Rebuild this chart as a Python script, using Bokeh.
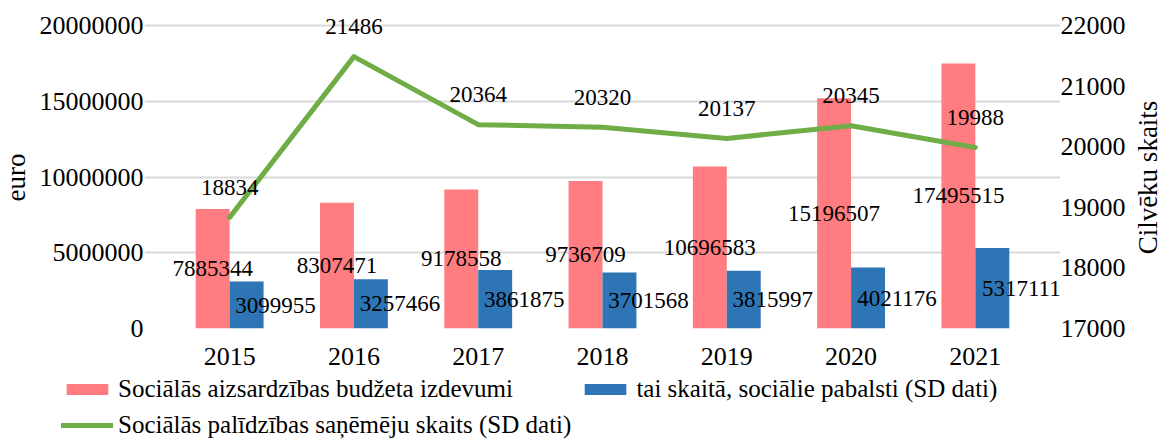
import math
from bokeh.plotting import figure
from bokeh.layouts import column, row
from bokeh.models import (Range1d, LinearAxis, FactorRange, ColumnDataSource, Legend,
                          LegendItem, FixedTicker, BasicTickFormatter, Label)
from bokeh.transform import dodge
from bokeh.core.properties import value
from bokeh.embed import file_html
from bokeh.resources import INLINE

years = ["2015", "2016", "2017", "2018", "2019", "2020", "2021"]
budget = [7885344, 8307471, 9178558, 9736709, 10696583, 15196507, 17495515]
benefits = [3099955, 3257466, 3861875, 3701568, 3815997, 4021176, 5317111]
recipients = [18834, 21486, 20364, 20320, 20137, 20345, 19988]
left_ticks = [0, 5000000, 10000000, 15000000, 20000000]
right_ticks = [17000, 18000, 19000, 20000, 21000, 22000]

name_budget = "Sociālās aizsardzības budžeta izdevumi"
name_benefits = "tai skaitā, sociālie pabalsti (SD dati)"
name_recipients = "Sociālās palīdzības saņēmēju skaits (SD dati)"
left_title = "euro"
right_title = "Cilvēku skaits"

FONT = "Liberation Serif"
PINK = "#FF7C80"
BLUE = "#2E75B6"
GREEN = "#70AD47"

# layout geometry (pixels)
W = 1162
LW = 35           # strip holding the left axis title
RW = 31           # strip holding the right axis title
PH = 375          # chart height
LH = 64           # legend strip height
F_LEFT, F_RIGHT = 144, 1060       # plot frame (room for labels that overhang)
G_TOP, G_BOTTOM = 25, 328         # where the top/bottom gridlines sit
F_TOP = 5
CAT_W = (1037 - 167) / len(years)  # width of one category slot
pad = (167 - F_LEFT) / CAT_W

src = ColumnDataSource(dict(
    year=years,
    budget=budget,
    benefits=benefits,
    recipients=recipients,
    budget_mid=[v / 2 for v in budget],
    benefits_mid=[v / 2 for v in benefits],
    budget_txt=[str(v) for v in budget],
    benefits_txt=[str(v) for v in benefits],
    recipients_txt=[str(v) for v in recipients],
))

def no_align(fig):
    if hasattr(fig, "frame_align"):
        fig.frame_align = False

stretch = (G_BOTTOM - F_TOP) / (G_BOTTOM - G_TOP)
p = figure(x_range=FactorRange(factors=years, range_padding=pad,
                               range_padding_units="absolute"),
           y_range=Range1d(0, left_ticks[-1] * stretch),
           width=W - LW - RW, height=PH, output_backend="svg", toolbar_location=None,
           min_border_left=F_LEFT - LW, min_border_right=W - RW - F_RIGHT,
           min_border_top=F_TOP, min_border_bottom=PH - G_BOTTOM)
no_align(p)
p.extra_y_ranges = {"right": Range1d(right_ticks[0], right_ticks[0] +
                                     (right_ticks[-1] - right_ticks[0]) * stretch)}
p.outline_line_color = None
p.xgrid.grid_line_color = None
p.ygrid.grid_line_color = "#D9D9D9"
p.ygrid.grid_line_width = 2

bw = 0.273
r_budget = p.vbar(x=dodge("year", -bw / 2, range=p.x_range), top="budget", width=bw,
                  source=src, color=PINK, line_color=None)
r_benefits = p.vbar(x=dodge("year", bw / 2, range=p.x_range), top="benefits", width=bw,
                    source=src, color=BLUE, line_color=None)
r_line = p.line(x="year", y="recipients", source=src, y_range_name="right",
                line_color=GREEN, line_width=5, line_cap="round", line_join="round")

lbl_size = "23px"
p.text(x=dodge("year", -bw / 2, range=p.x_range), y="budget_mid", text="budget_txt",
       source=src, text_align="center", text_baseline="middle",
       text_font=value(FONT), text_font_size=lbl_size, text_color="black")
p.text(x=dodge("year", bw / 2, range=p.x_range), y="benefits_mid", text="benefits_txt",
       source=src, text_align="center", text_baseline="middle", x_offset=29,
       text_font=value(FONT), text_font_size=lbl_size, text_color="black")
p.text(x="year", y="recipients", text="recipients_txt", source=src, y_range_name="right",
       text_align="center", text_baseline="middle", y_offset=-30,
       text_font=value(FONT), text_font_size=lbl_size, text_color="black")

def style_axis(ax, standoff):
    ax.major_label_text_font = FONT
    ax.major_label_text_font_size = "26px"
    ax.major_label_text_color = "black"
    ax.major_label_standoff = standoff
    ax.axis_line_color = None
    ax.major_tick_line_color = None
    ax.minor_tick_line_color = None
    ax.major_tick_out = 0
    ax.major_tick_in = 0

ya = p.yaxis[0]
ya.ticker = FixedTicker(ticks=left_ticks)
ya.formatter = BasicTickFormatter(use_scientific=False)
style_axis(ya, 1)

ra = LinearAxis(y_range_name="right", ticker=FixedTicker(ticks=right_ticks),
                formatter=BasicTickFormatter(use_scientific=False))
style_axis(ra, 0)
p.add_layout(ra, "right")

xa = p.xaxis[0]
style_axis(xa, 19)

def title_strip(width, text, sx):
    f = figure(width=width, height=PH, x_range=Range1d(0, 1), y_range=Range1d(0, 1),
               x_axis_type=None, y_axis_type=None, toolbar_location=None,
               output_backend="svg", min_border=0)
    no_align(f)
    f.outline_line_color = None
    f.add_layout(Label(x=sx, y=PH - 177, x_units="screen", y_units="screen",
                       text=text, angle=math.pi / 2, text_align="center",
                       text_baseline="middle", text_font=FONT,
                       text_font_size="27px", text_color="black"))
    return f

ls = title_strip(LW, left_title, 15)
rs = title_strip(RW, right_title, 16)

# legend strip below the chart
lf = figure(width=W, height=LH, x_range=p.x_range, y_range=p.y_range,
            x_axis_type=None, y_axis_type=None, toolbar_location=None,
            output_backend="svg", min_border=0)
no_align(lf)
lf.outline_line_color = None
l_budget = lf.vbar(x="year", top="budget", width=bw, source=src, color=PINK,
                   line_color=None, visible=False)
l_benefits = lf.vbar(x="year", top="benefits", width=bw, source=src, color=BLUE,
                     line_color=None, visible=False)
l_line = lf.line(x="year", y="recipients", source=src, line_color=GREEN, line_width=5,
                 line_cap="round", visible=False)

legend = Legend(items=[
    LegendItem(label=name_budget, renderers=[l_budget]),
    LegendItem(label=name_benefits, renderers=[l_benefits]),
    LegendItem(label=name_recipients, renderers=[l_line]),
], location=(61, 0), orientation="horizontal", ncols=2)
legend.label_text_font = FONT
legend.label_text_font_size = "25px"
legend.label_text_color = "black"
legend.label_standoff = 5
legend.glyph_width = 52
legend.glyph_height = 14
legend.label_height = 28
legend.spacing = 8
legend.padding = 0
legend.margin = 0
legend.border_line_color = None
legend.background_fill_alpha = 0
lf.add_layout(legend)

layout = column(row(ls, p, rs), lf)
open("out.html", "w").write(file_html(layout, INLINE))
